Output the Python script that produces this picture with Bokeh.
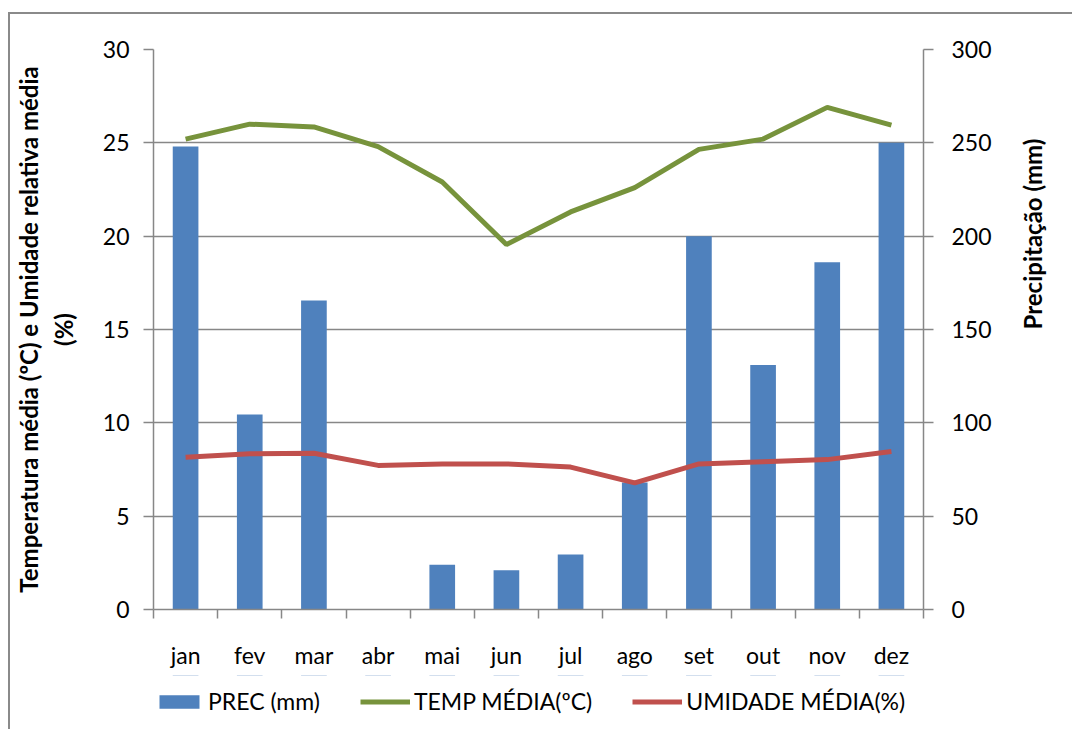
import math
from bokeh.plotting import figure
from bokeh.layouts import column
from bokeh.models import (FactorRange, Range1d, LinearAxis, CategoricalAxis, LinearScale,
                          FixedTicker, Legend, LegendItem, ColumnDataSource,
                          CustomJSTickFormatter)
from bokeh.embed import file_html
from bokeh.resources import INLINE

months = ["jan", "fev", "mar", "abr", "mai", "jun", "jul", "ago", "set", "out", "nov", "dez"]
prec_mm = [248, 104.5, 165.5, 0, 24, 21, 29.5, 68, 200, 131, 186, 250]
temp_media = [25.2, 26.0, 25.85, 24.8, 22.9, 19.55, 21.3, 22.6, 24.65, 25.2, 26.9, 25.95]
umidade_media = [81.5, 83.4, 83.7, 77.2, 78.0, 78.0, 76.3, 67.8, 78.0, 79.2, 80.3, 84.6]
left_ticks = [0, 5, 10, 15, 20, 25, 30]
right_ticks = [0, 50, 100, 150, 200, 250, 300]
left_title = "Temperatura média (ºC) e Umidade relativa média\n(%)"
right_title = "Precipitação (mm)"
series_names = ["PREC (mm)", "TEMP MÉDIA(ºC)", "UMIDADE MÉDIA(%)"]

FONT = "Lato"
GRAY = "#878787"
BLUE = "#4F81BD"
GREEN = "#77933C"
RED = "#C0504D"
TICK_FS = "23px"
TITLE_FS = "24px"

src = ColumnDataSource(dict(m=months, prec=prec_mm, temp=temp_media, umid=umidade_media))

p = figure(width=1062, height=661, x_range=FactorRange(*months), y_range=Range1d(0, 30),
           x_axis_location=None, output_backend="svg", toolbar_location=None,
           min_border_left=143, min_border_right=149, min_border_top=35, min_border_bottom=66,
           background_fill_color="white", border_fill_color="white")
p.outline_line_color = None
p.extra_y_ranges = {"prec": Range1d(0, 300)}
p.extra_y_scales = {"prec": LinearScale()}

# grid
p.xgrid.visible = False
p.ygrid.ticker = FixedTicker(ticks=left_ticks)
p.ygrid.grid_line_color = GRAY
p.ygrid.grid_line_width = 1.5

def style_axis(ax):
    ax.axis_line_color = GRAY
    ax.axis_line_width = 1.5
    ax.major_tick_line_color = GRAY
    ax.major_tick_line_width = 1.5
    ax.major_tick_in = 0
    ax.minor_tick_line_color = None
    ax.major_label_text_font = FONT
    ax.major_label_text_font_size = TICK_FS
    ax.major_label_text_color = "black"
    ax.axis_label_text_font = FONT
    ax.axis_label_text_font_style = "bold"
    ax.axis_label_text_font_size = TITLE_FS
    ax.axis_label_text_color = "black"

# left axis
ly = p.yaxis[0]
ly.ticker = FixedTicker(ticks=left_ticks)
style_axis(ly)
ly.major_tick_out = 10
ly.major_label_standoff = 14
ly.axis_label = left_title
ly.axis_label_standoff = 22

# right axis (ticks and tick labels)
ry = LinearAxis(y_range_name="prec", ticker=FixedTicker(ticks=right_ticks))
style_axis(ry)
ry.major_tick_out = 10
ry.major_label_standoff = 18
p.add_layout(ry, "right")

# right axis title, on a label-only axis, reading bottom-to-top
rt = LinearAxis(y_range_name="prec", ticker=FixedTicker(ticks=[]), bounds=(0, 190))
style_axis(rt)
rt.axis_line_color = None
rt.major_tick_line_color = None
rt.major_tick_out = 0
rt.major_label_standoff = 0
rt.axis_label = right_title
rt.axis_label_standoff = 38
if "axis_label_orientation" in rt.properties():
    rt.axis_label_orientation = math.pi / 2
p.add_layout(rt, "right")

# bottom: boundary ticks (synthetic coordinates of the factor range), then month labels
bx = LinearAxis(ticker=FixedTicker(ticks=list(range(len(months) + 1))),
                formatter=CustomJSTickFormatter(code="return ''"))
style_axis(bx)
bx.major_tick_out = 9
bx.major_label_standoff = 0
p.add_layout(bx, "below")

cx = CategoricalAxis()
style_axis(cx)
cx.axis_line_color = None
cx.major_tick_line_color = None
cx.major_label_standoff = 16
p.add_layout(cx, "below")

p.vbar(x="m", top="prec", width=0.4, source=src, y_range_name="prec",
       fill_color=BLUE, line_color=None)
p.line(x="m", y="temp", source=src, line_color=GREEN, line_width=5)
p.line(x="m", y="umid", source=src, y_range_name="prec", line_color=RED, line_width=5)

# legend strip below the chart (its view range shows none of the series, only the legend)
lg = figure(width=1062, height=54, x_range=FactorRange(*months), y_range=Range1d(-2, -1),
            x_axis_location=None, y_axis_location=None, output_backend="svg",
            toolbar_location=None, min_border=0, background_fill_color="white",
            border_fill_color="white")
lg.outline_line_color = None
lg.grid.visible = False
r_bar = lg.vbar(x="m", top="prec", width=0.4, source=src, fill_color=BLUE, line_color=None)
r_temp = lg.line(x="m", y="temp", source=src, line_color=GREEN, line_width=5)
r_umid = lg.line(x="m", y="umid", source=src, line_color=RED, line_width=5)
legend = Legend(items=[LegendItem(label=series_names[0], renderers=[r_bar]),
                       LegendItem(label=series_names[1], renderers=[r_temp]),
                       LegendItem(label=series_names[2], renderers=[r_umid])],
                orientation="horizontal", location=(1, 14))
legend.label_text_font = FONT
legend.label_text_font_size = TICK_FS
legend.label_text_color = "black"
legend.glyph_width = 50
legend.glyph_height = 17
legend.spacing = 40
legend.label_standoff = 4
legend.border_line_color = None
legend.background_fill_alpha = 0
legend.margin = 0
legend.padding = 0
lg.add_layout(legend, "center")

layout = column(p, lg, spacing=0)
layout.styles = {"border-left": "2px solid #8a8a8a", "border-top": "2px solid #8a8a8a",
                 "margin-top": "12px", "margin-left": "8px"}

open("out.html", "w").write(file_html(layout, INLINE))
